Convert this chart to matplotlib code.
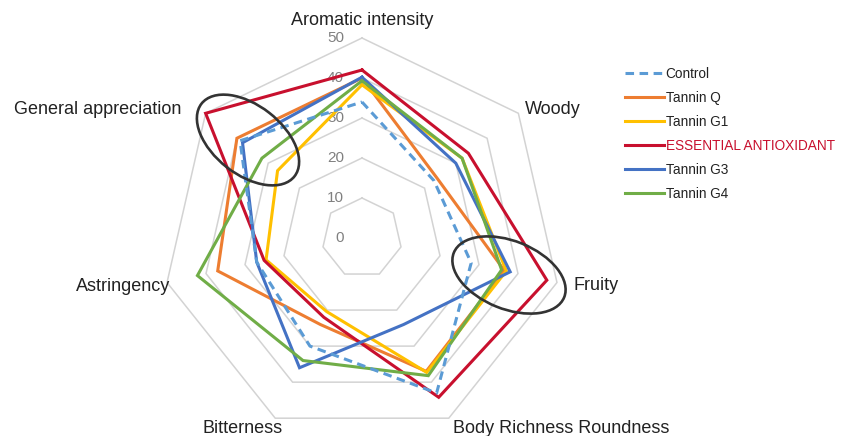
import numpy as np
import matplotlib
matplotlib.use("Agg")
import matplotlib.pyplot as plt
from matplotlib.patches import Ellipse
from matplotlib.lines import Line2D
from matplotlib import font_manager

# ---------------- data ----------------
categories = ["Aromatic intensity", "Woody", "Fruity", "Body Richness Roundness",
              "Bitterness", "Astringency", "General appreciation"]
series_names = ["Control", "Tannin Q", "Tannin G1", "ESSENTIAL ANTIOXIDANT",
                "Tannin G3", "Tannin G4"]
control = [34, 23, 28, 43, 30, 27, 39]
tannin_q = [40, 24, 36.5, 37, 24, 37, 40]
tannin_g1 = [38.3, 32, 37, 37.3, 20.4, 24.6, 27]
essential = [42, 34, 47.4, 44.2, 22, 25.1, 50]
tannin_g3 = [40.2, 30, 38, 24, 36, 27, 38.2]
tannin_g4 = [39.3, 32, 35.8, 38.2, 34, 42.2, 32]
ring_ticks = [0, 10, 20, 30, 40, 50]

# ---------------- styles ----------------
colors = ["#5B9BD5", "#ED7D31", "#FFC000", "#C8102E", "#4472C4", "#70AD47"]
styles = ["dashed", "solid", "solid", "solid", "solid", "solid"]
zorders = [8, 3, 4, 5, 6, 7]
label_anchor = [(0, 53.25, "center"), (40.75, 31.1, "left"), (52.8, -13.1, "left"),
                (22.75, -48.7, "left"), (-19.75, -48.7, "right"),
                (-48.0, -13.2, "right"), (-45.25, 30.9, "right")]
highlights = [(-28.5, 24.5, 29.5, 17.25, -38), (36.75, -9.25, 29.75, 17.0, -22)]

names = {f.name for f in font_manager.fontManager.ttflist}
base_font = "Liberation Sans" if "Liberation Sans" in names else "DejaVu Sans"
if "Liberation Sans Narrow" in names:
    leg_font, leg_size = "Liberation Sans Narrow", 11.5
else:
    leg_font, leg_size = base_font, 9.8
plt.rcParams["font.family"] = [base_font, "DejaVu Sans"]

W, H = 847, 436
fig = plt.figure(figsize=(W / 100, H / 100), dpi=100)
ax = fig.add_axes([0, 0, 1, 1])
cx, cy, scale = 362, 238, 4.0
ax.set_xlim(-cx / scale, (W - cx) / scale)
ax.set_ylim(-(H - cy) / scale, cy / scale)
ax.axis("off")

n = len(categories)
theta = np.pi / 2 - 2 * np.pi * np.arange(n) / n


def polar_xy(vals):
    v = np.asarray(vals, dtype=float)
    x = v * np.cos(theta)
    y = v * np.sin(theta)
    return np.append(x, x[0]), np.append(y, y[0])


# grid rings
for t in ring_ticks[1:]:
    gx, gy = polar_xy([t] * n)
    ax.plot(gx, gy, color="#d3d3d3", lw=1.1, zorder=1, solid_joinstyle="miter")

for t in ring_ticks:
    ax.text(-4.5, t, str(t), ha="right", va="center", color="#808080",
            fontsize=11, zorder=2)

# series
all_series = [control, tannin_q, tannin_g1, essential, tannin_g3, tannin_g4]
handles = []
for vals, c, ls, z in zip(all_series, colors, styles, zorders):
    sx, sy = polar_xy(vals)
    if ls == "dashed":
        ax.plot(sx, sy, color=c, lw=2.2, linestyle=(0, (2.8, 1.8)),
                dash_capstyle="butt", zorder=z)
        handles.append(Line2D([], [], color=c, lw=2.2, linestyle=(0, (2.8, 1.8))))
    else:
        ax.plot(sx, sy, color=c, lw=2.2, solid_joinstyle="miter", zorder=z)
        handles.append(Line2D([], [], color=c, lw=2.2))

# category labels
for name, (lx, ly, ha) in zip(categories, label_anchor):
    ax.text(lx, ly, name, ha=ha, va="baseline", fontsize=13, color="#222222")

# highlight ellipses
for ex, ey, ew, eh, ea in highlights:
    ax.add_patch(Ellipse((ex, ey), ew, eh, angle=ea, fill=False,
                         edgecolor="#333333", lw=1.9, zorder=9))

leg_px = leg_size * 100 / 72
leg = fig.legend(handles, series_names, loc="upper left",
                 bbox_to_anchor=(625 / W, 1 - 66.5 / H), frameon=False,
                 prop={"family": leg_font, "size": leg_size},
                 handlelength=39 / leg_px, handletextpad=0.12,
                 labelspacing=0.74, borderpad=0, borderaxespad=0)
for txt in leg.get_texts():
    txt.set_color("#C8102E" if txt.get_text().startswith("ESSENTIAL") else "#222222")

fig.savefig("out.png", dpi=100)
